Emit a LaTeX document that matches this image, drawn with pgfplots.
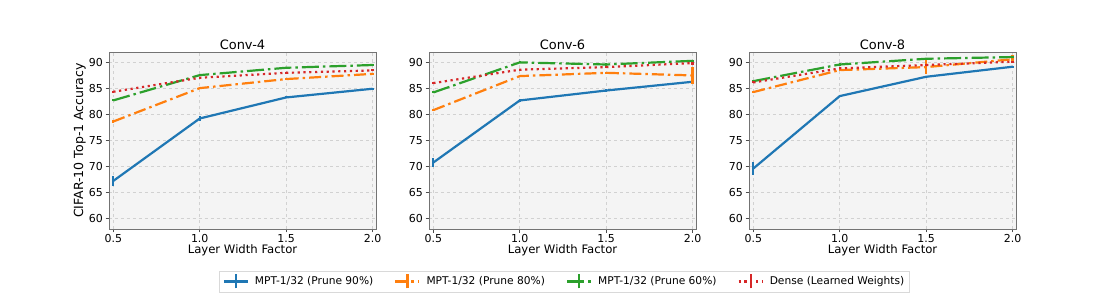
\documentclass[border=0pt]{standalone}
\usepackage{fontspec}
\setmainfont{DejaVu Sans}
\usepackage{pgfplots}
\pgfplotsset{compat=1.18}
\definecolor{tabblue}{HTML}{1F77B4}
\definecolor{taborange}{HTML}{FF7F0E}
\definecolor{tabgreen}{HTML}{2CA02C}
\definecolor{tabred}{HTML}{D62728}
\definecolor{bgray}{HTML}{F4F4F4}
\pgfplotsset{
  myaxis/.style={
    width=267bp, height=177bp, scale only axis,
    xmin=0.475, xmax=2.02, ymin=58, ymax=92,
    xtick={0.5,1,1.5,2}, ytick={60,65,...,90},
    /pgf/number format/assume math mode=true,
    tick label style={font=\fontsize{11}{13}\selectfont},
    xticklabel style={inner sep=2bp, /pgf/number format/.cd, fixed, fixed zerofill, precision=1},
    yticklabel style={inner sep=2.5bp},
    xlabel style={font=\fontsize{11.7}{14}\selectfont, yshift=4bp},
    ylabel style={font=\fontsize{12.6}{15}\selectfont},
    title style={font=\fontsize{13}{15}\selectfont, yshift=-7bp},
    grid=major, grid style={dashed, black!18, line width=0.5bp},
    axis background/.style={fill=bgray},
    axis line style={black!55, line width=0.6bp},
    tick style={black!70, line width=0.6bp},
    tick align=outside, xtick pos=bottom, ytick pos=left,
    major tick length=3.5bp,
    xlabel={Layer Width Factor},
  },
  lblue/.style={tabblue, solid, line width=2.2bp,
    error bars/.cd, y dir=both, y explicit, error mark=none,
    error bar style={line width=2.2bp, solid}},
  lorange/.style={taborange, line width=2.2bp, dash pattern=on 12bp off 4bp on 2.5bp off 4bp,
    error bars/.cd, y dir=both, y explicit, error mark=none,
    error bar style={line width=2.2bp, solid}},
  lgreen/.style={tabgreen, line width=2.2bp, dash pattern=on 17bp off 4bp on 2.5bp off 4bp,
    error bars/.cd, y dir=both, y explicit, error mark=none,
    error bar style={line width=2.2bp, solid}},
  lred/.style={tabred, line width=2.2bp, dash pattern=on 2.2bp off 3.6bp,
    error bars/.cd, y dir=both, y explicit, error mark=none,
    error bar style={line width=2.2bp, solid}},
  legimg/.style={legend image code/.code={
    \draw[##1] (0bp,0bp) -- (24bp,0bp);
    \draw[##1, solid] (12bp,-7bp) -- (12bp,7bp);}},
}
\begin{document}
\begin{tikzpicture}
\useasboundingbox (0,0) rectangle (1096bp,297bp);
% Conv-4
\begin{axis}[myaxis, at={(109bp,68bp)}, anchor=south west,
  title={Conv-4}, ylabel={CIFAR-10 Top-1 Accuracy},
  ylabel style={at={(axis description cs:-0.086,0.5)}, anchor=south, inner sep=0pt}]
\addplot[lblue] table[x=x,y=y,y error=e] {
x y e
0.5 67.24 0.9
1.0 79.23 0.4
1.5 83.27 0.2
2.0 84.94 0.2
};
\addplot[lorange] table[x=x,y=y,y error=e] {
x y e
0.5 78.65 0.2
1.0 85.06 0.2
1.5 86.80 0.2
2.0 87.80 0.2
};
\addplot[lgreen] table[x=x,y=y,y error=e] {
x y e
0.5 82.70 0.2
1.0 87.56 0.2
1.5 88.97 0.2
2.0 89.50 0.2
};
\addplot[lred] table[x=x,y=y,y error=e] {
x y e
0.5 84.36 0.2
1.0 87.05 0.2
1.5 88.00 0.2
2.0 88.46 0.2
};
\end{axis}
% Conv-6
\begin{axis}[myaxis, at={(429bp,68bp)}, anchor=south west,
  title={Conv-6},
  legend columns=4,
  legend style={at={(0.5075,-0.2966)}, anchor=center, draw=black!15, fill=white,
    font=\fontsize{10.7}{12}\selectfont, inner xsep=3bp, inner ysep=2.5bp,
    nodes={inner xsep=2bp, inner ysep=3bp},
    /tikz/every odd column/.append style={column sep=4bp},
    /tikz/every even column/.append style={column sep=19bp}},
  legend cell align=left]
\addplot[legimg, lblue] table[x=x,y=y,y error=e] {
x y e
0.5 70.77 0.8
1.0 82.69 0.2
1.5 84.60 0.2
2.0 86.28 0.3
};
\addlegendentry{MPT-1/32 (Prune 90\%)}
\addplot[legimg, lorange] table[x=x,y=y,y error=e] {
x y e
0.5 80.83 0.2
1.0 87.37 0.2
1.5 88.00 0.2
2.0 87.50 1.6
};
\addlegendentry{MPT-1/32 (Prune 80\%)}
\addplot[legimg, lgreen] table[x=x,y=y,y error=e] {
x y e
0.5 84.23 0.2
1.0 90.00 0.2
1.5 89.60 0.2
2.0 90.30 0.2
};
\addlegendentry{MPT-1/32 (Prune 60\%)}
\addplot[legimg, lred] table[x=x,y=y,y error=e] {
x y e
0.5 86.03 0.2
1.0 88.60 0.2
1.5 89.10 0.2
2.0 89.87 0.3
};
\addlegendentry{Dense (Learned Weights)}
\end{axis}
% Conv-8
\begin{axis}[myaxis, at={(749bp,68bp)}, anchor=south west,
  title={Conv-8}]
\addplot[lblue] table[x=x,y=y,y error=e] {
x y e
0.5 69.62 1.3
1.0 83.53 0.2
1.5 87.24 0.2
2.0 89.17 0.2
};
\addplot[lorange] table[x=x,y=y,y error=e] {
x y e
0.5 84.30 0.2
1.0 88.53 0.2
1.5 89.10 1.35
2.0 90.60 0.8
};
\addplot[lgreen] table[x=x,y=y,y error=e] {
x y e
0.5 86.40 0.2
1.0 89.60 0.2
1.5 90.70 0.2
2.0 91.03 0.2
};
\addplot[lred] table[x=x,y=y,y error=e] {
x y e
0.5 86.15 0.2
1.0 88.85 0.2
1.5 89.50 0.2
2.0 90.13 0.2
};
\end{axis}
\end{tikzpicture}
\end{document}
